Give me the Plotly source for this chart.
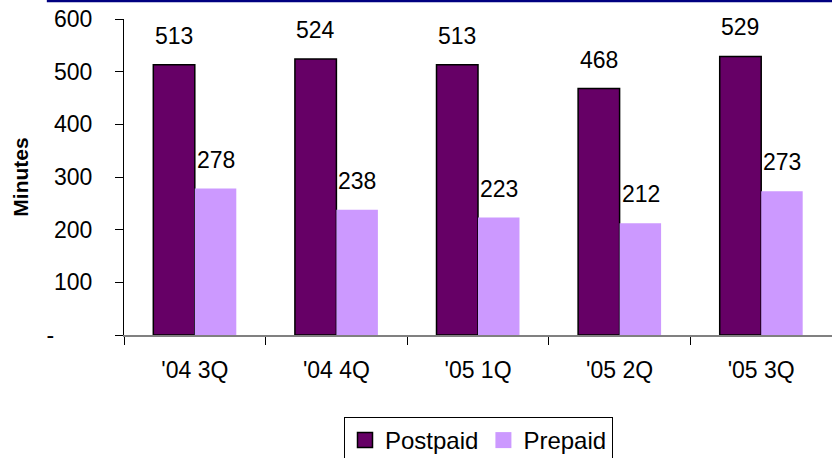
import plotly.graph_objects as go

# Average minutes of use per subscriber, by quarter
quarters = ["'04 3Q", "'04 4Q", "'05 1Q", "'05 2Q", "'05 3Q"]
postpaid = [513, 524, 513, 468, 529]
prepaid = [278, 238, 223, 212, 273]

y_ticks = [0, 100, 200, 300, 400, 500, 600]
y_ticktext = ["-" + "\u00a0" * 6, "100", "200", "300", "400", "500", "600"]

FONT = "Arial, 'Liberation Sans', sans-serif"
POST_COLOR = "#660066"
PRE_COLOR = "#CC99FF"

fig = go.Figure()
fig.add_trace(go.Bar(
    name="Postpaid", x=quarters, y=postpaid, showlegend=False,
    marker=dict(color=POST_COLOR, line=dict(color="black", width=1.5)),
))
fig.add_trace(go.Bar(
    name="Prepaid", x=quarters, y=prepaid, showlegend=False,
    marker=dict(color=PRE_COLOR, line=dict(width=0)),
))

# legend keys drawn as larger square swatches
fig.add_trace(go.Scatter(
    name="Postpaid", x=[None], y=[None], mode="markers",
    marker=dict(symbol="square", size=15, color=POST_COLOR,
                line=dict(color="black", width=1.5)),
))
fig.add_trace(go.Scatter(
    name="Prepaid", x=[None], y=[None], mode="markers",
    marker=dict(symbol="square", size=16, color=PRE_COLOR, line=dict(width=0)),
))

# value labels above each bar
annotations = []
for q, v in zip(quarters, postpaid):
    annotations.append(dict(x=q, y=v, xref="x", yref="y", text=str(v), showarrow=False,
                            xshift=-21, yshift=14, yanchor="bottom",
                            font=dict(family=FONT, size=23, color="black")))
for q, v in zip(quarters, prepaid):
    annotations.append(dict(x=q, y=v, xref="x", yref="y", text=str(v), showarrow=False,
                            xshift=21, yshift=14, yanchor="bottom",
                            font=dict(family=FONT, size=23, color="black")))

fig.update_layout(
    width=832, height=458,
    margin=dict(l=124, r=0, t=19, b=123, autoexpand=False),
    paper_bgcolor="white", plot_bgcolor="white",
    barmode="group", bargap=0.414, bargroupgap=0,
    font=dict(family=FONT, size=23, color="black"),
    annotations=annotations,
    showlegend=True,
    legend=dict(
        orientation="h", xref="container", yref="container",
        x=478.5 / 832, xanchor="center", y=1 - 417 / 458, yanchor="top",
        bordercolor="black", borderwidth=1, font=dict(size=24),
        itemclick=False, itemsizing="trace", tracegroupgap=0,
    ),
    shapes=[dict(type="line", xref="paper", yref="paper",
                 x0=-0.109, x1=1.0, y0=1.057, y1=1.057,
                 line=dict(color="#000080", width=2.5))],
)
fig.update_xaxes(
    type="category", categoryarray=quarters,
    showline=True, linecolor="#808080", linewidth=1.5,
    ticks="outside", tickson="boundaries", ticklen=8, tickcolor="black",
    ticklabelstandoff=14, showgrid=False, zeroline=False,
    tickfont=dict(size=23),
)
fig.update_yaxes(
    range=[0, 600], tickvals=y_ticks, ticktext=y_ticktext,
    showline=True, linecolor="black", linewidth=1,
    ticks="outside", ticklen=8, tickcolor="black",
    ticklabelstandoff=18, showgrid=False, zeroline=False,
    tickfont=dict(size=23),
    title=dict(text="<b>Minutes</b>", font=dict(size=21), standoff=12),
)

fig.write_html("out.html")
